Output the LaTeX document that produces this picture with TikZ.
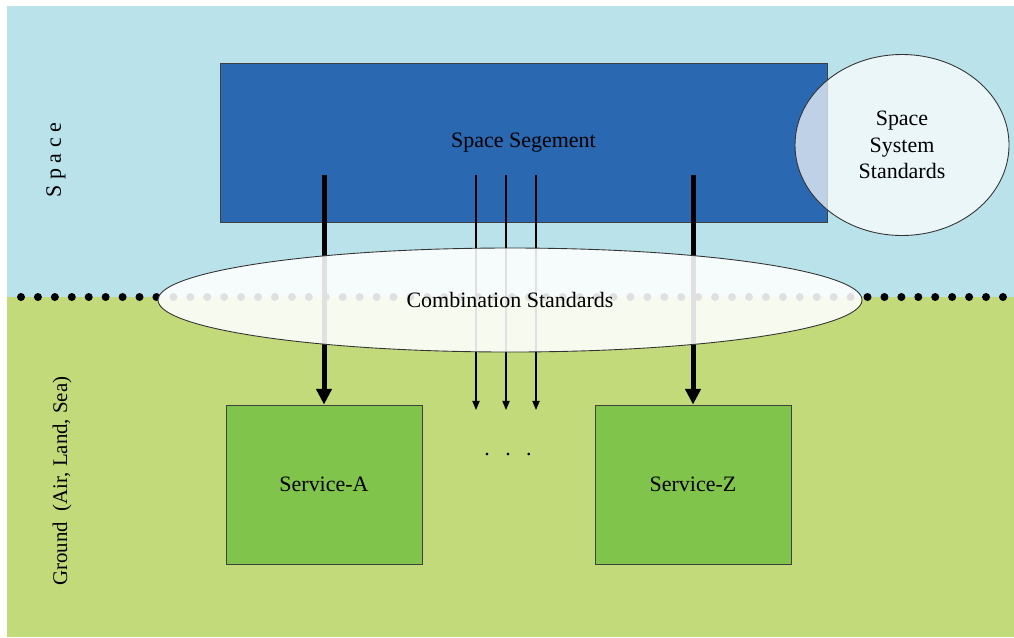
\documentclass[tikz,border=0pt]{standalone}
\usepackage{fontspec}
\setmainfont{Liberation Serif}
\usetikzlibrary{arrows.meta,shapes.geometric}

\newcommand{\pxu}{0.16mm}
\definecolor{sky}{HTML}{BAE2EA}
\definecolor{ground}{HTML}{C2DA7A}
\definecolor{segblue}{HTML}{2A68B1}
\definecolor{srvgreen}{HTML}{80C44C}

\begin{document}
\begin{tikzpicture}[
        x=\pxu, y=-\pxu,
        segment/.style={draw=black!75, fill=segblue, inner sep=0pt,
            minimum width=607*\pxu, minimum height=159*\pxu},
        service/.style={draw=black!75, fill=srvgreen, inner sep=0pt,
            minimum width=196*\pxu, minimum height=159*\pxu},
        standard/.style={ellipse, draw=black!80, fill=white, inner sep=0pt, align=center},
        feed/.style={line width=0.8mm, -{Triangle[width=2.4mm, length=2.5mm]}},
        link/.style={line width=0.55pt, -{Triangle[width=1.15mm, length=1.45mm]}},
    ]
    \useasboundingbox (0,0) rectangle (1014,637);
    \fill[white] (0,0) rectangle (1014,637);
    \fill[sky] (7,6) rectangle (1014,297);
    \fill[ground] (7,297) rectangle (1014,637);

    \foreach \i in {0,...,58}
        \fill (21+\i*16.93,297) circle[radius=4];

    \node[segment] (seg) at (523.5,142.5) {Space Segement};
    \node[service] (srvA) at (324,484.5) {Service-A};
    \node[service] (srvZ) at (693,484.5) {Service-Z};

    \coordinate (fa) at (324,175);
    \coordinate (fz) at (693,175);
    \draw[feed] (fa) -- (srvA.north);
    \draw[feed] (fz) -- (srvZ.north);

    \foreach \x [count=\k] in {476,506,536} {
        \coordinate (t\k) at (\x,175);
        \coordinate (h\k) at (\x,410);
        \draw[link] (t\k) -- (h\k);
    }
    \node[anchor=base] (more) at (508,455) {.\hspace{7pt}.\hspace{7pt}.};

    \node[standard, fill opacity=0.88, text opacity=1,
        minimum width=704*\pxu, minimum height=104*\pxu] (comb) at (510,300) {Combination Standards};
    \node[standard, fill opacity=0.7, text opacity=1,
        minimum width=214*\pxu, minimum height=181*\pxu] (sys) at (902,145) {Space\\System\\Standards};

    \node[rotate=90] (spc) at (56,160) {S p a c e};
    \node[rotate=90, font=\fontsize{9.5}{11}\selectfont] (gnd) at (62,481) {Ground~ (Air, Land, Sea)};
\end{tikzpicture}
\end{document}
